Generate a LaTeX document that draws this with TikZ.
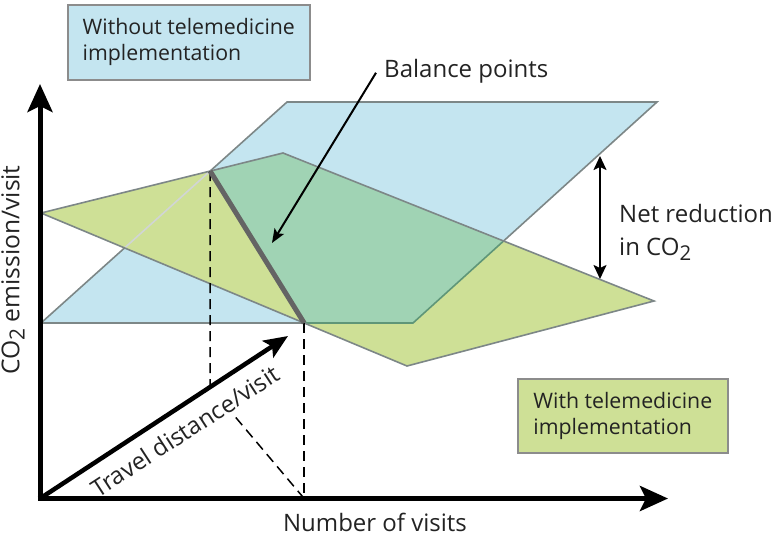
\documentclass[tikz,border=0pt]{standalone}
\usepackage{fontspec}
\setmainfont{Open Sans}
\usetikzlibrary{arrows.meta,calc}
\definecolor{blueF}{RGB}{196,229,240}
\definecolor{greenF}{RGB}{206,224,150}
\definecolor{tealF}{RGB}{160,211,180}
\definecolor{edgeC}{RGB}{125,135,135}
\definecolor{tealE}{RGB}{95,150,120}
\definecolor{boxE}{RGB}{140,140,140}
\definecolor{balC}{RGB}{100,100,100}
\definecolor{txtC}{RGB}{35,35,35}
\newcommand\subtwo{\raisebox{-0.4ex}{\scalebox{0.85}{2}}}
\tikzset{
  plane edge/.style={draw=edgeC, line width=1.6pt},
  legend box/.style={draw=boxE, line width=1.6pt, align=left, inner sep=0pt, anchor=north west, text=txtC, font=\fontsize{21.3}{26}\selectfont},
  axis arrow/.style={line width=5pt, -{Stealth[length=28pt,width=25pt,inset=6pt]}},
  thin arrow/.style={line width=2pt, -{Stealth[length=14pt,width=11pt,inset=3pt]}},
  dbl arrow/.style={line width=2pt, {Stealth[length=14pt,width=13pt,inset=3pt]}-{Stealth[length=14pt,width=13pt,inset=3pt]}},
  guide/.style={line width=1.5pt, dash pattern=on 10pt off 6pt},
  label text/.style={font=\fontsize{24}{33}\selectfont, inner sep=0pt, text=txtC}
}
\begin{document}
\begin{tikzpicture}[x=1pt,y=-1pt]
\useasboundingbox (0,0) rectangle (778,536);
% axes origin
\coordinate (O) at (40,498.5);
\coordinate (Ytip) at (40,84);
\coordinate (Xtip) at (668,498.5);
% planes
\coordinate (B1) at (41,323);
\coordinate (B2) at (413,323);
\coordinate (B3) at (657,102);
\coordinate (B4) at (287,102);
\coordinate (G1) at (41,213);
\coordinate (G2) at (283,153);
\coordinate (G3) at (654,301);
\coordinate (G4) at (407,366);
\coordinate (P1) at (intersection of B1--B4 and G1--G2);
\coordinate (P2) at (intersection of B1--B2 and G1--G4);
\coordinate (X1) at (intersection of B2--B3 and G2--G3);
\coordinate (Q) at (intersection of B1--B4 and G1--G4);
\fill[blueF] (B1)--(B2)--(B3)--(B4)--cycle;
\fill[greenF] (G1)--(G2)--(G3)--(G4)--cycle;
\fill[tealF] (P1)--(G2)--(X1)--(B2)--(P2)--cycle;
% blue edges
\draw[plane edge] (B1)--(P2);
\draw[plane edge, draw=tealE] (P2)--(B2)--(X1);
\draw[plane edge] (X1)--(B3)--(B4)--(P1);
\draw[plane edge] (B1)--(Q);
\draw[plane edge, draw=edgeC!35] (Q)--(P1);
% green edges
\draw[plane edge] (G1)--(G2)--(G3)--(G4)--cycle;
% travel arrow
\coordinate (T) at (288,336);
\coordinate (D) at (intersection of P1--{$(P1)+(0,300)$} and O--T);
\coordinate (F) at (P2 |- O);
\draw[guide] (P1)--(D);
\draw[guide] (P2)--(F);
\draw[guide] (F)--($(F)!0.76!(D)$);
% balance line
\draw[balC, line width=5pt] (P1)--(P2);
% axes
\draw[axis arrow] ([yshift=2.5pt]O)--(Ytip);
\draw[axis arrow] ([xshift=-2.5pt]O)--(Xtip);
\draw[line width=4.5pt, -{Stealth[length=24pt,width=20pt,inset=5pt]}] (O)--(T);
\node[label text, rotate=33] (tdv) at (185,431) {Travel distance/visit};
% axis labels
\node[label text, rotate=90, font=\fontsize{24.6}{30}\selectfont] (ylab) at (13,270) {CO\subtwo{} emission/visit};
\node[label text, anchor=base] (xlab) at (375,531) {Number of visits};
% legend boxes
\node[legend box, fill=blueF, minimum width=242pt, minimum height=75pt] (wbox) at (67,4)
  {Without telemedicine\\implementation};
\node[legend box, fill=greenF, minimum width=210pt, minimum height=74pt] (gbox) at (517,378)
  {With telemedicine\\implementation};
% balance points
\node[label text, anchor=base west] (bp) at (384,77) {Balance points};
\coordinate (bptip) at (272,243);
\draw[thin arrow] ([xshift=-8pt,yshift=-2pt]bp.west)--(bptip);
% net reduction
\coordinate (nt) at (600,156);
\coordinate (nb) at (600,279);
\draw[dbl arrow] (nt)--(nb);
\node[label text, align=left, anchor=west] (net) at (619,232) {Net reduction\\in CO\subtwo};
\end{tikzpicture}
\end{document}
